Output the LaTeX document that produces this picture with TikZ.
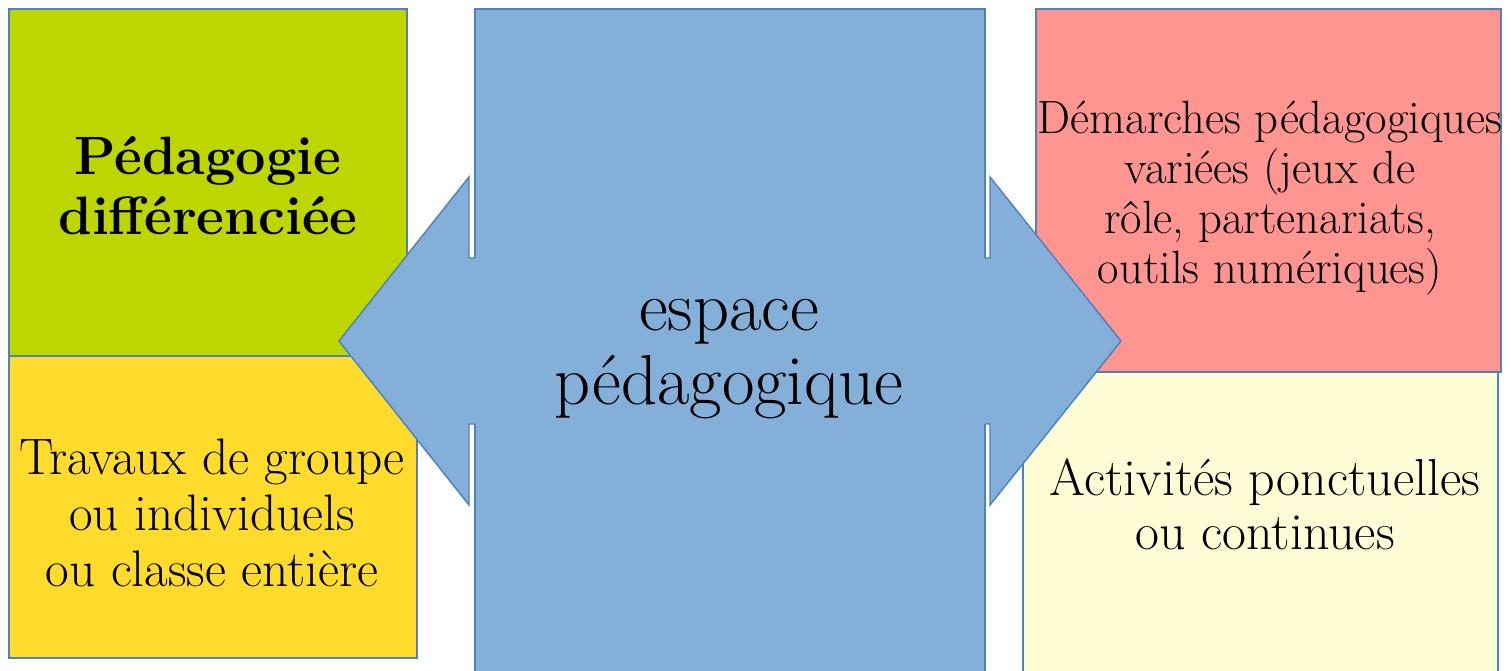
\documentclass[tikz,border=0pt]{standalone}
\usepackage{tikz}

\definecolor{edgeblue}{RGB}{79,129,189}
\definecolor{boxgreen}{RGB}{189,214,0}
\definecolor{boxyellow}{RGB}{255,219,43}
\definecolor{boxred}{RGB}{255,149,145}
\definecolor{boxcream}{RGB}{255,253,214}
\definecolor{arrowblue}{RGB}{132,175,217}

\tikzset{every picture/.style={line width=0.75pt}}

\begin{document}
\begin{tikzpicture}[x=0.75pt,y=0.75pt,yscale=-1,xscale=1]
%set diagram to the size of the slide
\clip (0,0) rectangle (1511,671);
\fill [white] (0,0) rectangle (1511,671);

%Shape: Rectangle [green]
\draw [color=edgeblue, fill=boxgreen, line width=1.1] (9,9) rectangle (407,356) ;
%Shape: Rectangle [yellow]
\draw [color=edgeblue, fill=boxyellow, line width=1.1] (9,356) rectangle (417,658) ;
%Shape: Rectangle [red]
\draw [color=edgeblue, fill=boxred, line width=1.1] (1036,9) rectangle (1501,372) ;
%Shape: Rectangle [cream]
\draw [color=edgeblue, fill=boxcream, line width=1.1] (1023,372) rectangle (1498,690) ;

%Left Right Arrow
\draw [color=edgeblue, fill=arrowblue, line width=1.1] (339,341) -- (469,177) -- (469,258) -- (990,258) -- (990,177) -- (1121,341) -- (990,505) -- (990,424) -- (469,424) -- (469,505) -- cycle ;

%Shape: Rectangle [centre]
\fill [arrowblue] (475,9) rectangle (985,690) ;
\draw [color=edgeblue, line width=1.1] (475,258) -- (475,9) -- (985,9) -- (985,258) ;
\draw [color=edgeblue, line width=1.1] (475,424) -- (475,690) ;
\draw [color=edgeblue, line width=1.1] (985,424) -- (985,690) ;

% Text Node
\draw (208,186) node (diff) [inner sep=0.75pt, align=center, font=\bfseries\fontsize{40.5}{45}\selectfont] {Pédagogie\\différenciée};
% Text Node
\draw (212,513) node (travaux) [inner sep=0.75pt, align=center, font=\fontsize{38.5}{42}\selectfont] {Travaux de groupe\\ou individuels\\ou classe entière};
% Text Node
\draw (729,359) node (espace) [inner sep=0.75pt, align=center, font=\fontsize{53}{56}\selectfont] {espace\\pédagogique};
% Text Node
\draw (1270,198) node (demarches) [inner sep=0.75pt, align=center, font=\fontsize{35}{37.7}\selectfont] {Démarches pédagogiques\\variées (jeux de\\rôle, partenariats,\\outils numériques)};
% Text Node
\draw (1265,504) node (activites) [inner sep=0.75pt, align=center, font=\fontsize{39}{40.5}\selectfont] {Activités ponctuelles\\ou continues};

\end{tikzpicture}
\end{document}
